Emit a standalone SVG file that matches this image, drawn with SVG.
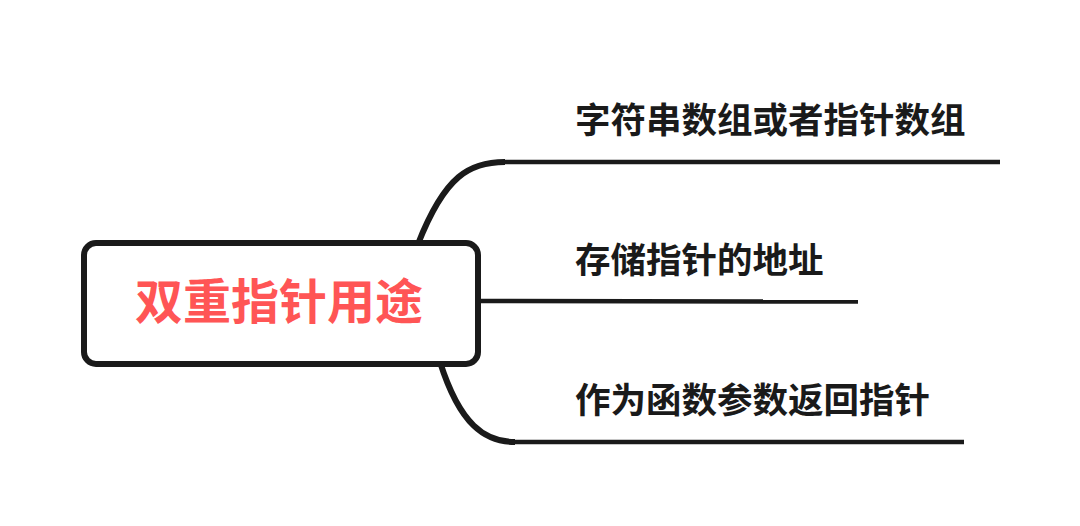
<svg xmlns="http://www.w3.org/2000/svg" width="1080" height="526" viewBox="0 0 1080 526">
  <style>
    .conn { fill: none; stroke: #1a1a1a; stroke-linecap: butt; }
    .curve { stroke-width: 6; }
    .line { stroke-width: 4.5; }
    .label { font-family: "Noto Sans CJK SC", "Noto Sans", sans-serif; font-size: 35.5px; font-weight: 700; fill: #1a1a1a; }
    .root-text { font-family: "Noto Sans CJK SC", "Noto Sans", sans-serif; font-size: 48px; font-weight: 700; fill: #FF5555; }
    .root-box { fill: #ffffff; stroke: #1a1a1a; stroke-width: 6; }
  </style>
  <rect width="1080" height="526" fill="#ffffff"/>
  <g id="connectors">
    <path class="conn curve" d="M418,244 C445,175 470,162 505,162"/>
    <line class="conn line" x1="503" y1="162" x2="1000" y2="162"/>
    <line class="conn line" x1="470" y1="301" x2="858" y2="301.5"/>
    <path class="conn curve" d="M440,362 C460,425 485,442 515,442"/>
    <line class="conn line" x1="513" y1="442" x2="964" y2="442"/>
  </g>
  <g id="root">
    <rect class="root-box" x="84" y="243" width="394" height="121" rx="12" ry="12"/>
    <text class="root-text" x="279" y="319" text-anchor="middle">双重指针用途</text>
  </g>
  <g id="node-1">
    <text class="label" x="575" y="132.5">字符串数组或者指针数组</text>
  </g>
  <g id="node-2">
    <text class="label" x="575" y="272.5">存储指针的地址</text>
  </g>
  <g id="node-3">
    <text class="label" x="575" y="412.5">作为函数参数返回指针</text>
  </g>
</svg>
